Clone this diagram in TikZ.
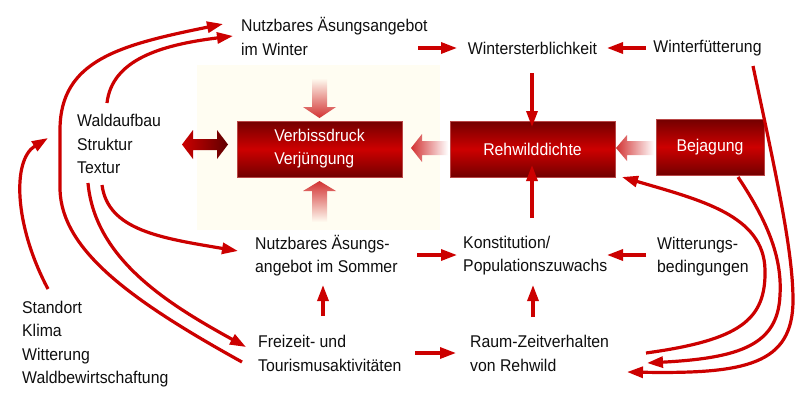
\documentclass[tikz,border=0pt]{standalone}
\usepackage{fontspec}
\setmainfont{Liberation Sans}[FakeStretch=0.93]
\usetikzlibrary{arrows.meta}
\definecolor{arrred}{RGB}{204,0,0}
\definecolor{boxdark}{RGB}{115,0,0}
\definecolor{boxmid}{RGB}{205,0,0}
\definecolor{boxline}{RGB}{185,70,70}
\definecolor{cream}{RGB}{255,253,242}
\definecolor{fatred}{RGB}{210,50,50}
\definecolor{fatdark}{RGB}{95,0,0}
\definecolor{txt}{RGB}{15,15,15}
\begin{document}
\begin{tikzpicture}[x=1pt,y=-1pt,
  lbl/.style={inner sep=0pt, align=left, anchor=west, text=txt,
    font=\fontsize{17}{23.5}\selectfont},
  redbox/.style={draw=boxline, line width=0.6pt, top color=boxdark,
    bottom color=boxdark, middle color=boxmid, text=white, align=left,
    minimum height=56pt, inner sep=0pt, font=\fontsize{17}{23}\selectfont},
  arr/.style={draw=arrred, line width=3.2pt,
    -{Triangle[length=16pt,width=11pt]}},
]
\useasboundingbox (0,0) rectangle (800,418);
\fill[white] (0,0) rectangle (800,418);
\fill[cream] (197,65) rectangle (440,230);

% boxes
\node[redbox, minimum width=165pt] (vd) at (319.5,149) {Verbissdruck\\Verjüngung};
\node[redbox, minimum width=165pt] (rd) at (532.5,149) {Rehwilddichte};
\node[redbox, minimum width=108pt] (bj) at (710,147) {Bejagung};

% text nodes
\node[lbl] (nw) at (241,36.5) {Nutzbares Äsungsangebot\\im Winter};
\node[lbl, anchor=center] (ws) at (532.5,48) {Wintersterblichkeit};
\node[lbl, anchor=center] (wf) at (707.5,48) {Winterfütterung};
\node[lbl] (wa) at (77,144) {Waldaufbau\\Struktur\\Textur};
\node[lbl] (st) at (22,344) {Standort\\Klima\\Witterung\\Waldbewirtschaftung};
\node[lbl] (ns) at (255,255.5) {Nutzbares Äsungs-\\angebot im Sommer};
\node[lbl] (ko) at (463,255.5) {Konstitution/\\Populationszuwachs};
\node[lbl] (wb) at (657,256.5) {Witterungs-\\bedingungen};
\node[lbl] (fz) at (258,353.5) {Freizeit- und\\Tourismusaktivitäten};
\node[lbl] (rz) at (470,353.5) {Raum-Zeitverhalten\\von Rehwild};

% fat gradient arrows
\shade[top color=cream, bottom color=fatred]
  (312,78) -- (327,78) -- (327,107) -- (336,107) -- (319.5,118) -- (303,107) -- (312,107) -- cycle;
\shade[top color=fatred, bottom color=cream]
  (319.5,181) -- (336,191) -- (327,191) -- (327,222) -- (312,222) -- (312,191) -- (303,191) -- cycle;
\shade[left color=fatred, right color=white]
  (411,148) -- (422,134) -- (422,141) -- (448,141) -- (448,155) -- (422,155) -- (422,162) -- cycle;
\shade[left color=fatred, right color=white]
  (616,148) -- (627,135) -- (627,141) -- (654,141) -- (654,155) -- (627,155) -- (627,161) -- cycle;
\shade[left color=arrred, right color=fatdark]
  (182,144.5) -- (193,130) -- (193,139) -- (217,139) -- (217,130) -- (228,144.5)
  -- (217,159) -- (217,150) -- (193,150) -- (193,159) -- cycle;

% connector end points
\coordinate (nwR) at (418,48);   \coordinate (wsL) at (457,48);
\coordinate (wfL) at (646,48);   \coordinate (wsR) at (607,48);
\coordinate (wsB) at (532,73);   \coordinate (rdT) at (532,127);
\coordinate (koT) at (532,218);  \coordinate (rdB) at (532,165);
\coordinate (nsR) at (417,255);  \coordinate (koL) at (457,255);
\coordinate (wbL) at (646,255);  \coordinate (koR) at (607,255);
\coordinate (fzT) at (323,316);  \coordinate (nsB) at (323,285);
\coordinate (rzT) at (533,317);  \coordinate (koB) at (533,285);
\coordinate (fzR) at (415,353);  \coordinate (rzL) at (456,353);

\draw[arr] (nwR) -- (wsL);
\draw[arr] (wfL) -- (wsR);
\draw[arr] (wsB) -- (rdT);
\draw[arr] (koT) -- (rdB);
\draw[arr] (nsR) -- (koL);
\draw[arr] (wbL) -- (koR);
\draw[arr] (fzT) -- (nsB);
\draw[arr] (rzT) -- (koB);
\draw[arr] (fzR) -- (rzL);

% left curves
\coordinate (stT) at (48,289);   \coordinate (waL) at (48,138);
\coordinate (fzL) at (242,362);  \coordinate (nwL1) at (223,24);
\coordinate (waT) at (107,103);  \coordinate (nwL2) at (233,36);
\coordinate (waB1) at (88,183);  \coordinate (fzL2) at (246,347);
\coordinate (waB2) at (102,185); \coordinate (nsL) at (238,251);

\draw[arr] (stT) .. controls (14,225) and (12,160) .. (waL);
\draw[arr] (fzL) .. controls (130,300) and (62,250) .. (60,190)
  -- (60,130) .. controls (60,60) and (120,45) .. (nwL1);
\draw[arr] (waT) .. controls (112,60) and (160,45) .. (nwL2);
\draw[arr] (waB1) .. controls (95,260) and (170,305) .. (fzL2);
\draw[arr] (waB2) .. controls (108,230) and (160,238) .. (nsL);

% right curves
\coordinate (rzR) at (646,353);  \coordinate (rdBR) at (622,177);
\coordinate (bjB) at (738,177);  \coordinate (rzR2) at (647,363);
\coordinate (wfB) at (753,66);   \coordinate (rzR3) at (627,372);

\draw[arr] (rzR) .. controls (740,340) and (766,320) .. (765,270)
  .. controls (764,215) and (700,200) .. (rdBR);
\draw[arr] (bjB) .. controls (770,225) and (782,260) .. (780,295)
  .. controls (778,345) and (740,358) .. (rzR2);
\draw[arr] (wfB) .. controls (775,170) and (793,250) .. (793,300)
  .. controls (793,365) and (745,374) .. (rzR3);
\end{tikzpicture}
\end{document}
